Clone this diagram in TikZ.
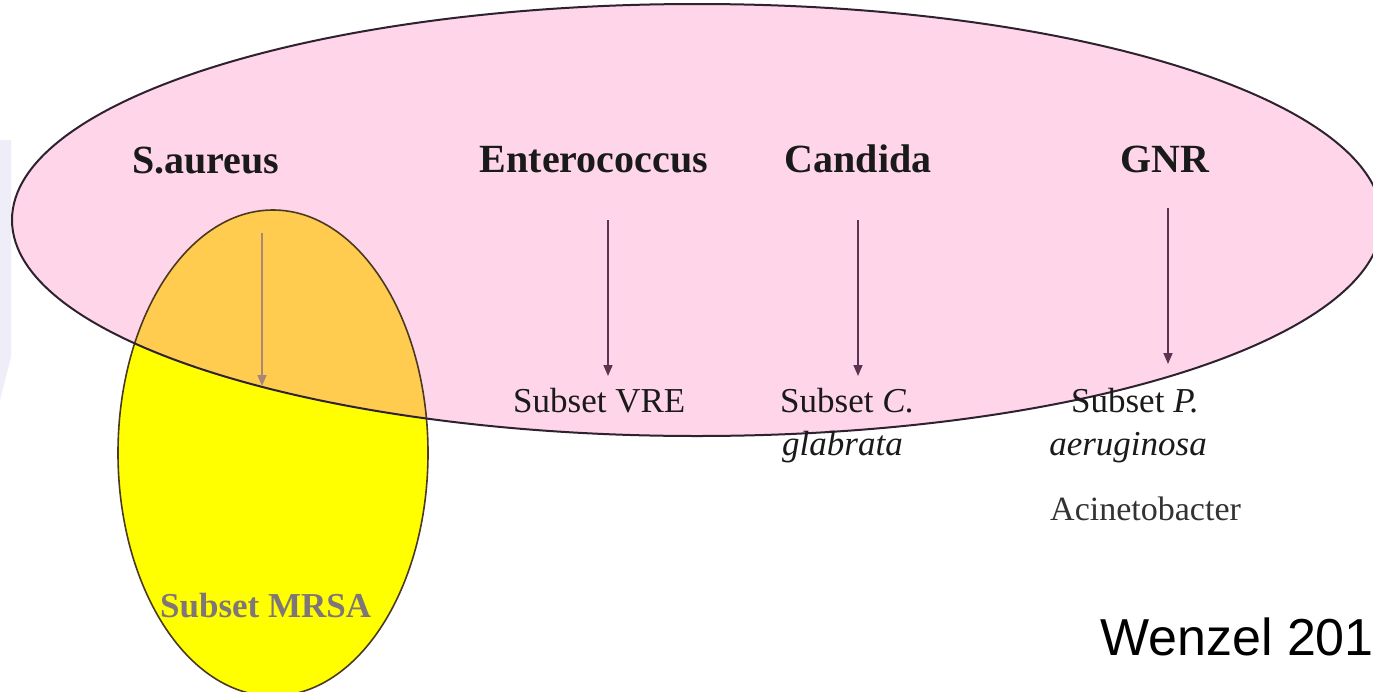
\documentclass[tikz,border=0pt]{standalone}
\usepackage{fontspec}
\setmainfont{Liberation Serif}
\newfontfamily\arialfont{Liberation Sans}
\usetikzlibrary{arrows.meta}
\definecolor{pinkfill}{HTML}{FFD6E9}
\definecolor{yellowfill}{HTML}{FFFF00}
\definecolor{overlapfill}{HTML}{FFCC50}
\definecolor{outline}{HTML}{2E2230}
\definecolor{youtline}{HTML}{4A3A22}
\definecolor{plum}{HTML}{5C3350}
\definecolor{tanarrow}{HTML}{A8867A}
\definecolor{lavender}{HTML}{EFEEF8}
\definecolor{mrsagray}{HTML}{7E7678}
\definecolor{textdark}{HTML}{1A1A1A}
\begin{document}
\begin{tikzpicture}[x=1pt,y=-1pt,
  headlabel/.style={inner sep=0pt,anchor=base,text=textdark,font=\fontsize{40}{48}\selectfont\bfseries},
  sublabel/.style={inner sep=0pt,text=textdark,font=\fontsize{35}{42}\selectfont},
  conn/.style={draw=plum,line width=1.6pt,-{Triangle[length=11pt,width=9pt]}},
  ]
\useasboundingbox (0,0) rectangle (1373,691);
\fill[white] (0,0) rectangle (1373,691);
% faint slide decoration at left edge
\fill[lavender] (0,140) -- (11,140) -- (11,357) -- (0,400) -- cycle;
% ellipses
\fill[pinkfill] (697,220) ellipse [x radius=685pt, y radius=216pt];
\fill[yellowfill] (273,453) ellipse [x radius=155pt, y radius=243pt];
\begin{scope}
  \clip (697,220) ellipse [x radius=685pt, y radius=216pt];
  \fill[overlapfill] (273,453) ellipse [x radius=155pt, y radius=243pt];
\end{scope}
\draw[youtline,line width=1.6pt] (273,453) ellipse [x radius=155pt, y radius=243pt];
\draw[outline,line width=2pt] (697,220) ellipse [x radius=685pt, y radius=216pt];
% head labels
\node[headlabel] (sa) at (206,173) {S.aureus};
\node[headlabel] (ent) at (594,172) {Enterococcus};
\node[headlabel] (can) at (858,172) {Candida};
\node[headlabel] (gnr) at (1165,172) {GNR};
% subset labels
\node[sublabel,anchor=base west,text=mrsagray,font=\fontsize{35}{42}\selectfont\bfseries] (mrsa) at (160,617) {Subset MRSA};
\node[sublabel,anchor=base west] (vre) at (513,412) {Subset VRE};
\node[sublabel,anchor=base west] (cg1) at (780,412) {Subset \textit{C.}};
\node[sublabel,anchor=base west] (cg2) at (782,455) {\textit{glabrata}};
\node[sublabel,anchor=base] (pa1) at (1135,412) {Subset \textit{P.}};
\node[sublabel,anchor=base] (pa2) at (1128,455) {\textit{aeruginosa}};
\node[sublabel,anchor=base west,text=black!80,font=\fontsize{34}{40}\selectfont] (acin) at (1050,520) {Acinetobacter};
\node[inner sep=0pt,anchor=base west,font=\arialfont\fontsize{52}{60}\selectfont] (ref) at (1100,655) {Wenzel 201};
% arrow end points
\coordinate (saS) at (262,233);
\coordinate (saE) at (262,386);
\coordinate (entS) at (608,220);
\coordinate (entE) at (608,376);
\coordinate (canS) at (858,220);
\coordinate (canE) at (858,376);
\coordinate (gnrS) at (1168,208);
\coordinate (gnrE) at (1168,364);
\draw[conn,draw=tanarrow] (saS) -- (saE);
\draw[conn] (entS) -- (entE);
\draw[conn] (canS) -- (canE);
\draw[conn] (gnrS) -- (gnrE);
\end{tikzpicture}
\end{document}
